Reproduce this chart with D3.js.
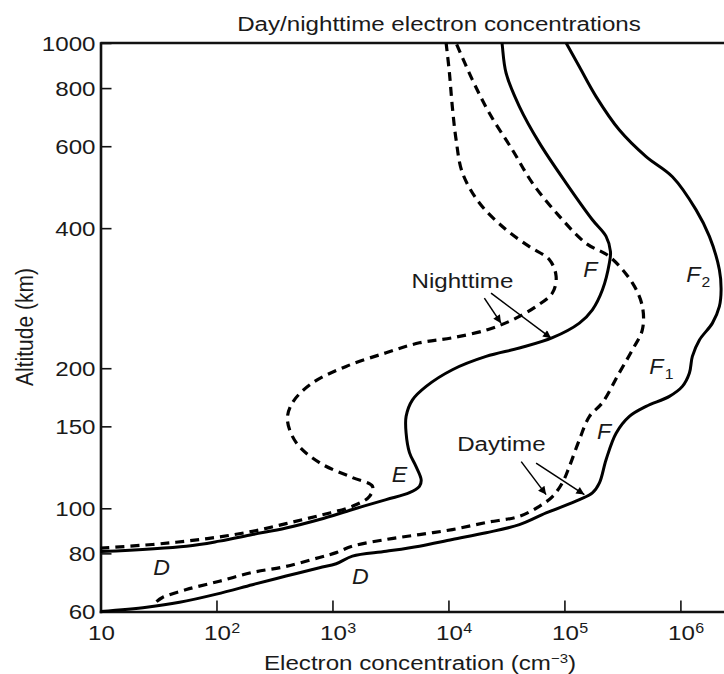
<!DOCTYPE html>
<html>
<head>
<meta charset="utf-8">
<script src="https://cdn.jsdelivr.net/npm/d3@7"></script>
<style>
  html, body { margin: 0; padding: 0; background: #fff; }
  svg { display: block; }
  text { font-family: "Liberation Sans", Arial, Helvetica, sans-serif; fill: #1a1a1a; }
</style>
</head>
<body>
<svg id="chart" width="724" height="674"></svg>
<script>
// ---- Data: [electron concentration (cm^-3), altitude (km)] ----
const nightSolid = [[10,80.7],[55,82.9],[106,85],[204,87.8],[398,90.7],[773,94.6],[1486,99.4],[2904,104.4],[4613,108],[5623,111.5],[5821,115],[5248,123],[4613,131.7],[4315,145],[4315,157.6],[4898,171],[6427,182.8],[10814,198.5],[21135,212],[40926,221],[78886,232.6],[134587,250],[174200,267],[212800,294.8],[244300,337],[249500,356],[228600,384],[174200,417],[103500,500],[60800,610],[40900,730],[31400,862],[29200,982],[29000,1000]];
const nightDashed = [[10,82.1],[28,83.6],[55,85],[106,86.8],[204,89.2],[398,92.7],[773,96.5],[1486,101],[2083,106],[2213,111.5],[1486,116.4],[773,125.3],[487,138.4],[409,155],[452,168.7],[673,186],[1312,201.8],[2904,215.9],[5623,226.8],[10814,232.5],[21700,242],[35650,254],[57000,271.5],[78900,290.5],[84800,315],[74300,342],[49900,365],[31400,397],[18500,453],[13200,526],[11650,619],[10800,730],[10200,862],[9550,1000]];
const daySolid = [[10,60],[25,61.3],[48,62.8],[100,65.4],[204,68.5],[398,71.5],[773,74.5],[1077,76],[1486,78.9],[2904,80.8],[5623,82.9],[10800,85.7],[21135,88.6],[40900,92.2],[69500,97.7],[134600,104.4],[174200,107.9],[200400,113.4],[228600,127.2],[279000,145],[363100,157.6],[505800,165.6],[803600,174],[1040000,182.8],[1196000,195.3],[1268000,212],[1459000,230],[1888000,250],[2168000,271.5],[2243000,294.8],[2168000,325.6],[1778000,384],[1365000,437.9],[853000,516],[505800,570],[297800,650],[187500,767],[134600,889],[103500,1000]];
const dayDashed = [[30.4,63],[34.2,64.3],[55,66.9],[106,69.7],[204,72.8],[398,75],[773,78.4],[1077,80.3],[1486,82.9],[2904,85.7],[5623,87.8],[10800,90],[21135,93.2],[40900,96.1],[60800,101],[78900,106],[96100,113.5],[110400,123],[134600,140.4],[164400,157.6],[212800,168.7],[297800,195.7],[385500,219],[470000,242],[470000,271.5],[385500,305],[244300,347.6],[153800,371],[90600,424],[53000,500],[35650,589],[22500,707],[16100,833],[11650,1000]];

const xTicks = [1e1, 1e2, 1e3, 1e4, 1e5, 1e6];
const yTicks = [60, 80, 100, 150, 200, 400, 600, 800, 1000];

// annotation arrows: [fromConc, fromAlt, toConc, toAlt]
const arrows = [
  [20400, 283, 28400, 250],
  [23300, 290, 76800, 232],
  [42400, 126, 69500, 107],
  [57000, 125, 148600, 107]
];
// text labels: [text, subscript, conc, alt, italic]
const labels = [
  ["Nighttime", "", 13200, 298, false],
  ["Daytime", "", 28600, 133, false],
  ["F", "", 167500, 314, true],
  ["F", "2", 1290000, 307, true],
  ["F", "1", 620000, 194, true],
  ["F", "", 219300, 141, true],
  ["E", "", 3785, 114, true],
  ["D", "", 33.6, 72, true],
  ["D", "", 1742, 68.6, true]
];

const title = "Day/nighttime electron concentrations";
const xTitle = "Electron concentration (cm";
const yTitle = "Altitude (km)";

// ---- Chart ----
const svg = d3.select("#chart");
const SX = 1.15; // horizontal glyph stretch of the reference

const x = d3.scaleLog().domain([10, 2.4e6]).range([100.5, 724.5]);
const y = d3.scaleLog().domain([60, 1000]).range([611.5, 43]);

function txt(px, py, str, opts = {}) {
  const size = opts.size || 21;
  const g = svg.append("g")
    .attr("transform", `translate(${px},${py}) rotate(${opts.rotate || 0}) scale(${opts.sx || SX},${opts.sy || 1})`);
  const t = g.append("text")
    .attr("text-anchor", opts.anchor || "middle")
    .style("font-size", size + "px")
    .style("font-style", opts.italic ? "italic" : "normal")
    .text(str);
  return { g, t };
}

// axes
const xAxis = svg.append("g")
  .attr("transform", `translate(0,${y(60)})`)
  .call(d3.axisBottom(x).tickValues(xTicks).tickSize(-11).tickSizeOuter(0).tickFormat(""));
const yAxis = svg.append("g")
  .attr("transform", `translate(${x(10)},0)`)
  .call(d3.axisLeft(y).tickValues(yTicks).tickSize(-11).tickSizeOuter(0).tickFormat(""));
[xAxis, yAxis].forEach(a => {
  a.select(".domain").attr("stroke", "#111").attr("stroke-width", 2.6).attr("stroke-linecap", "square");
  a.selectAll(".tick line").attr("stroke", "#111").attr("stroke-width", 1.6);
});
svg.append("line")
  .attr("x1", x(10)).attr("x2", x.range()[1])
  .attr("y1", y(1000)).attr("y2", y(1000))
  .attr("stroke", "#111").attr("stroke-width", 2.6);

// tick labels
xTicks.forEach(v => {
  const e = Math.round(Math.log10(v));
  const { g } = txt(x(v) + 1, 640, "10");
  if (e !== 1) {
    g.append("text").attr("x", 12).attr("y", -7).attr("text-anchor", "start")
      .style("font-size", "14px").text(e);
  }
});
yTicks.forEach(v => {
  txt(x(10) - 5, y(v) + 7.5, String(v), { anchor: "end" });
});

// titles
txt(439, 31, title);
const xt = txt(420, 670, xTitle);
xt.t.append("tspan").attr("dy", -7).style("font-size", "13px").text("\u22123");
xt.t.append("tspan").attr("dy", 7).style("font-size", "21px").text(")");
txt(33, 327, yTitle, { rotate: -90, sx: 1, sy: SX });

// curves
const line = d3.line().x(d => x(d[0])).y(d => y(d[1])).curve(d3.curveCatmullRom.alpha(0.5));
const series = [
  [nightSolid, null], [daySolid, null],
  [nightDashed, "9,6"], [dayDashed, "9,6"]
];
series.forEach(([data, dash]) => {
  svg.append("path").datum(data)
    .attr("d", line)
    .attr("fill", "none")
    .attr("stroke", "#000")
    .attr("stroke-width", dash ? 3.2 : 3)
    .attr("stroke-linejoin", "round")
    .attr("stroke-dasharray", dash);
});

// arrows
svg.append("defs").append("marker")
  .attr("id", "ah").attr("viewBox", "0 0 10 10")
  .attr("refX", 10).attr("refY", 5)
  .attr("markerWidth", 11).attr("markerHeight", 8)
  .attr("markerUnits", "userSpaceOnUse")
  .attr("orient", "auto")
  .append("path").attr("d", "M0,0L10,5L0,10Z").attr("fill", "#000");
arrows.forEach(a => {
  svg.append("line")
    .attr("x1", x(a[0])).attr("y1", y(a[1]))
    .attr("x2", x(a[2])).attr("y2", y(a[3]))
    .attr("stroke", "#000").attr("stroke-width", 1.5)
    .attr("marker-end", "url(#ah)");
});

// labels
labels.forEach(([s, sub, c, h, it]) => {
  const { g } = txt(x(c), y(h), s, { italic: it, size: it ? 22 : 21, sx: it ? 1.05 : SX });
  if (sub) {
    g.append("text").attr("x", 8).attr("y", 5).attr("text-anchor", "start")
      .style("font-size", "15px").text(sub);
  }
});
</script>
</body>
</html>
